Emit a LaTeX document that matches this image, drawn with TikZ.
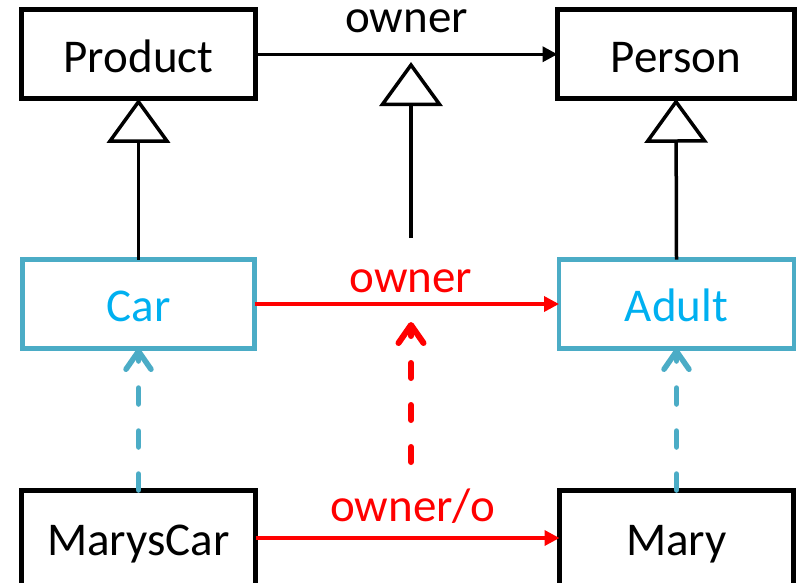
\documentclass[tikz,border=0pt]{standalone}
\usepackage{fontspec}
\setmainfont{Carlito}
\usetikzlibrary{arrows.meta}
\definecolor{accent}{RGB}{75,172,198}
\definecolor{skyblue}{RGB}{0,176,240}
\definecolor{linkred}{RGB}{255,0,0}

\begin{document}
\begin{tikzpicture}[x=1pt,y=-1pt,
  font=\fontsize{47}{56}\selectfont,
  cls/.style={draw=black, line width=5pt, minimum width=234pt, minimum height=89pt,
    inner sep=0pt, outer sep=0pt, text height=35.5pt, text depth=0pt},
  sub/.style={cls, draw=accent, text=skyblue, line width=4.5pt},
  lbl/.style={midway, anchor=base, inner sep=0pt},
  assoc/.style={line width=3.5pt, -{Triangle[length=15pt,width=15pt]}},
  link/.style={assoc, draw=linkred, text=linkred},
  gen/.style={line width=3.5pt, line join=miter, -{Triangle[open,length=44pt,width=63pt]}},
  inst/.style={draw=accent, line width=5.5pt, line cap=round, dash pattern=on 16pt off 27pt,
    -{Straight Barb[round,length=18pt,width=25pt]}},
  instred/.style={inst, draw=linkred, line width=6pt, dash pattern=on 15pt off 27pt}
]
\useasboundingbox (0,0) rectangle (800,582);

% classes
\node[cls] (product) at (138.5,54.25) {Product};
\node[cls, minimum width=237pt] (person) at (676,54.25) {Person};
\node[sub, minimum width=232pt] (car) at (138.5,304) {Car};
\node[sub, minimum width=235pt] (adult) at (676.5,304) {Adult};
\node[cls, minimum height=96pt] (maryscar) at (138.5,538) {MarysCar};
\node[cls, minimum height=96pt] (mary) at (676.5,538) {Mary};

% associations
\draw[assoc] (product) -- node[lbl, yshift=22pt, text height=24pt] {owner} (person);
\draw[link] (car) -- node[lbl, yshift=12pt, xshift=4pt] {owner} (adult);
\draw[link] (maryscar) -- node[lbl, yshift=17pt, xshift=5pt] {owner/o} (mary);

% generalisations
\draw[gen] (car.north) -- (product.south);
\draw[gen] (adult.north) -- (person.south);
\coordinate (assocfoot) at (411,238);
\coordinate (assochead) at (411,62);
\draw[gen] (assocfoot) -- (assochead);

% instance-of links
\draw[inst] (maryscar.north) -- (car.south);
\draw[inst] (mary.north) -- (adult.south);
\coordinate (linkfoot) at (411,462);
\coordinate (linkhead) at (411,322);
\draw[instred] (linkfoot) -- (linkhead);
\end{tikzpicture}
\end{document}
